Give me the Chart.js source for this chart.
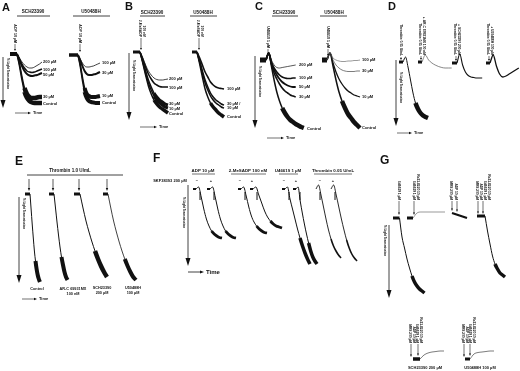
<!DOCTYPE html>
<html lang="en">
<head>
<meta charset="UTF-8">
<title>Platelet aggregation traces</title>
<script src="https://cdn.jsdelivr.net/npm/chart.js"></script>
<style>
  html, body { margin: 0; padding: 0; background: #fff; }
  #fig { display: block; }
</style>
</head>
<body>
<canvas id="fig" width="520" height="371"></canvas>
<script>
// Fall in light transmission after the agonist, sampled at equal time steps.
// A - ADP 10 uM
const aSch200 = [0, 4, 8, 11, 13, 14, 14, 13, 11.5, 10, 8];
const aSch100 = [0, 5, 10, 14, 17, 18, 18.5, 18, 17, 16, 15];
const aSch50 = [0, 6, 12, 17, 20, 21.5, 22, 21.5, 21, 20, 19];
const aSch30 = [0, 10, 23, 34, 40, 43, 44, 44, 43.5, 43, 43];
const aSchCtl = [0, 12, 26, 38, 44, 47, 48.5, 49, 49, 49, 49];
const aU100 = [0, 4, 8, 11, 12, 12, 11.5, 11, 10, 9, 8];
const aU30 = [0, 5, 11, 16, 19, 20, 20, 19.5, 19, 18, 17];
const aU10 = [0, 9, 22, 33, 39, 41, 42, 42, 42, 41.5, 41];
const aUCtl = [0, 11, 25, 37, 43, 46, 47, 47.5, 48, 48, 48];
// B - 2-MeSADP 100 nM
const bSch200 = [0, 6, 13, 19, 23, 26, 27.5, 28, 28, 27.5, 27];
const bSch100 = [0, 7, 15, 22, 27, 31, 33, 34.5, 35, 35, 35];
const bSch30 = [0, 9, 19, 28, 35, 41, 45, 48, 50, 52, 53];
const bSch10 = [0, 10, 21, 31, 38, 44, 48, 51, 53, 55, 56];
const bSchCtl = [0, 11, 23, 34, 42, 48, 52, 55, 57, 59, 61];
const bU100 = [0, 6, 13, 20, 25, 30, 33, 35, 36, 36.5, 37];
const bU30 = [0, 9, 19, 28, 35, 41, 45, 48, 50, 52, 53];
const bU10 = [0, 10, 21, 31, 38, 44, 48, 51, 53, 55, 56];
const bUCtl = [0, 12, 25, 37, 45, 51, 55, 58, 61, 63, 65];
// C - U46619 1 uM
const cSch200 = [0, -7, 0, 5, 7.5, 8, 7.5, 7, 6.5, 6, 5.5, 5];
const cSch100 = [0, -7, 2, 8, 12, 15, 17, 18, 18.5, 18.5, 18, 18];
const cSch50 = [0, -7, 3, 10, 15, 19, 22, 24, 25.5, 26.5, 27, 27];
const cSch30 = [0, -7, 4, 13, 19, 24, 28, 31, 33, 35, 36, 37];
const cSchCtl = [0, -7, 6, 20, 32, 41, 48, 53, 57, 60, 62, 64, 65.5, 67, 68];
const cU100 = [0, -7, -2, 0, 1, 1.5, 1.5, 1, 1, 0.5, 0.5, 0];
const cU30 = [0, -7, 0, 5, 8, 10, 11, 11.5, 11.5, 11.5, 11, 11];
const cU10 = [0, -7, 3, 12, 19, 24, 28, 31, 33, 35, 36, 37];
const cUCtl = [0, -7, 6, 20, 32, 41, 48, 54, 58, 62, 65, 68];
// D - thrombin 0.05 U/mL
const dCtl = [0, -5, 5, 18, 31, 41, 47, 51, 53.5, 55, 56];
const dArc = [0, -7, -2, 1, 3, 4.5, 5.5, 6, 6, 6];
const dSch = [0, -9, 2, 9, 12.5, 14, 14.5, 15, 15, 15];
const dU = [0, -8, 3, 11, 14, 13, 11, 9, 7, 5];
// E - thrombin 1.0 U/mL
const eCtl = [0, 15, 30, 44, 57, 67, 75, 81, 85, 88];
const eArc = [0, 14, 28, 41, 53, 63, 71, 78, 83, 86];
const eSch = [0, 14, 27, 38, 48, 57, 65, 72, 78, 83];
const eU = [0, 14, 27, 38, 48, 57, 65, 72, 78, 83, 86];
// F - without / with SKF38393 200 uM
const fAdpMinus = [0, -2, 8, 20, 30, 37, 42, 45, 47, 48.5, 49];
const fAdpPlus = [0, -2, 8, 20, 30, 37, 42, 45, 47, 48.5, 49];
const fMesMinus = [0, -2, 7, 18, 27, 33, 37, 40, 42, 43.5, 44];
const fMesPlus = [0, -2, 6, 14, 22, 28, 32, 35, 37, 38, 39];
const fU46Minus = [0, -2, 10, 20, 30, 40, 49, 57, 64, 70, 75];
const fU46Plus = [0, -2, 12, 24, 35, 45, 54, 62, 68, 72, 75];
const fThrMinus = [0, -4, 6, 18, 30, 41, 50, 57, 62, 66, 69];
const fThrPlus = [0, -4, 6, 18, 30, 41, 51, 59, 65, 69, 72];
// G
const gU46 = [0, 19, 30, 41, 50, 58, 64, 68, 71, 73, 75];
const gU46Ro = [0, -5, -6, -6, -6, -6, -6, -6, -6];
const gMrsAdp = [0, 1, 2, 3, 4, 5];
const gAll = [0, 15, 28, 40, 48, 53, 57, 59, 61];
const gSch = [0, -4, -6, -7, -7.5, -8, -8];
const gU50 = [0, -5, -6.5, -7, -7.5, -8, -8];
const baseline = [0, 0];

// where each trace sits on the sheet: values, start x, baseline y, step, width, heavy width, heavy from index, colour
const traceLayout = [
  [aSch200, 17, 54, 2.5, 0.8], [aSch100, 17, 54, 2.5, 1.4], [aSch50, 17, 54, 2.5, 2],
  [aSch30, 17, 54, 2.5, 1.5, 4.5, 3], [aSchCtl, 17, 54, 2.5, 1.5, 4.5, 3],
  [aU100, 78, 55, 2.2, 0.8], [aU30, 78, 55, 2.2, 2],
  [aU10, 78, 55, 2.2, 1.5, 4, 3], [aUCtl, 78, 55, 2.2, 1.5, 4, 3],
  [bSch200, 140, 52, 2.8, 0.8], [bSch100, 140, 52, 2.8, 1.6],
  [bSch30, 140, 52, 2.8, 1.5, 3, 5], [bSch10, 140, 52, 2.8, 1.5, 3, 5], [bSchCtl, 140, 52, 2.8, 1.5, 3.5, 5],
  [bU100, 197, 52, 2.7, 1.6], [bU30, 197, 52, 2.7, 1.5], [bU10, 197, 52, 2.7, 1.5], [bUCtl, 197, 52, 2.7, 1.5, 3.5, 5],
  [cSch200, 266, 60, 2.7, 0.7], [cSch100, 266, 60, 2.7, 1.6], [cSch50, 266, 60, 2.7, 1.8],
  [cSch30, 266, 60, 2.7, 1.6], [cSchCtl, 266, 60, 2.7, 1.5, 4.5, 6],
  [cU100, 327, 60, 3.0, 0.6, 0, 99, '#555'], [cU30, 327, 60, 3.0, 0.7, 0, 99, '#444'],
  [cU10, 327, 60, 3.0, 1.3], [cUCtl, 327, 60, 3.0, 1.5, 4.5, 5],
  [dCtl, 403, 62, 2.5, 1, 4.5, 5], [dArc, 422, 62, 3.3, 0.7, 0, 99, '#555'],
  [dSch, 457, 63, 2.8, 1.1], [dU, 490, 63, 3.2, 1.3],
  [eCtl, 30, 194, 1.1, 1, 4, 5], [eArc, 54, 194, 1.5, 1, 4, 5],
  [eSch, 80, 194, 3.0, 1, 4.5, 5], [eU, 108, 194, 2.8, 0.8, 4, 6],
  [fAdpMinus, 196, 189, 2.6, 1, 2.8, 6], [fAdpPlus, 210, 189, 2.6, 1, 2.8, 6],
  [fMesMinus, 241, 189, 2.6, 1, 2.8, 6], [fMesPlus, 253, 189, 2.9, 1, 2.8, 6],
  [fU46Minus, 285, 189, 2.5, 1, 3.5, 6], [fU46Plus, 296, 189, 2.1, 1, 3.5, 6],
  [fThrMinus, 316, 189, 2.5, 0.9, 1.6, 6], [fThrPlus, 331, 189, 2.6, 0.9, 1.6, 6],
  [gU46, 399.5, 218, 2.5, 1, 3.5, 5], [gU46Ro, 413, 218, 4, 0.6, 0, 99, '#555'],
  [gMrsAdp, 452, 213, 3, 2.2], [gAll, 485, 216, 2.5, 1, 3.5, 4],
  [gSch, 420, 359, 4, 0.7, 0, 99, '#444'], [gU50, 470, 359, 4, 0.7, 0, 99, '#444']
];

// pre-agonist baselines: from x, to x, baseline y, width
const baseLayout = [
  [10, 17, 54, 4], [69, 78, 55, 3.5], [133, 140, 52, 3], [192, 197, 52, 3],
  [260, 266, 60, 5], [322, 327, 60, 5],
  [399, 403, 62, 3], [418, 422, 62, 3], [452, 457, 63, 3], [486, 490, 63, 3],
  [25, 30, 194, 3], [49, 54, 194, 3], [74, 80, 194, 3], [103, 108, 194, 3],
  [193, 196, 189, 2], [207, 210, 189, 2], [238, 241, 189, 2], [250, 253, 189, 2],
  [282, 285, 189, 2], [293, 296, 189, 2],
  [393, 399.5, 218, 3], [407, 413, 218, 3], [477, 485, 216, 3], [413, 420, 359, 3.5], [465, 470, 359, 3]
];

// text: string, x, y, size, align, rotation (deg), bold
const texts = [
  ['A', 2, 11, 11, 'left', 0, true], ['B', 125, 10, 11, 'left', 0, true],
  ['C', 255, 10, 11, 'left', 0, true], ['D', 388, 10, 11, 'left', 0, true],
  ['E', 15, 165, 12, 'left', 0, true], ['F', 153, 162, 12, 'left', 0, true],
  ['G', 380, 164, 12, 'left', 0, true],
  ['SCH23390', 33, 12, 4.6, 'center', 0, true], ['U50488H', 91, 12, 4.6, 'center', 0, true],
  ['SCH23390', 152, 13, 4.6, 'center', 0, true], ['U50488H', 203, 13, 4.6, 'center', 0, true],
  ['SCH23390', 284, 13, 4.6, 'center', 0, true], ['U50488H', 334, 13, 4.6, 'center', 0, true],
  ['ADP 10 \u00b5M', 15, 43, 3.6, 'right', 90, true], ['ADP 10 \u00b5M', 80, 43, 3.6, 'right', 90, true],
  ['2-MeSADP', 140, 37, 3.4, 'right', 90, true], ['100 nM', 143.5, 37, 3.4, 'right', 90, true],
  ['2-MeSADP', 198, 37, 3.4, 'right', 90, true], ['100 nM', 201.5, 37, 3.4, 'right', 90, true],
  ['U46619 1 \u00b5M', 268, 48, 3.6, 'right', 90, true], ['U46619 1 \u00b5M', 328, 48, 3.6, 'right', 90, true],
  ['Thrombin 0.05 U/mL', 401, 56, 3.3, 'right', 90, true],
  ['Thrombin 0.05 U/mL', 420, 55, 3.3, 'right', 90, true], ['+ AR-C 69931MX 100 nM', 424, 55, 3.3, 'right', 90, true],
  ['Thrombin 0.05 U/mL', 455, 55, 3.3, 'right', 90, true], ['+ SCH23390 200 \u00b5M', 459, 55, 3.3, 'right', 90, true],
  ['Thrombin 0.05 U/mL', 488, 55, 3.3, 'right', 90, true], ['+ U50488H 100 \u00b5M', 492, 55, 3.3, 'right', 90, true],
  ['200 \u00b5M', 43, 62, 4, 'left', 0, true], ['100 \u00b5M', 43, 70, 4, 'left', 0, true],
  ['50 \u00b5M', 43, 75, 4, 'left', 0, true], ['30 \u00b5M', 43, 97, 4, 'left', 0, true],
  ['Control', 43, 104, 4, 'left', 0, true],
  ['100 \u00b5M', 102, 63, 4, 'left', 0, true], ['30 \u00b5M', 102, 73, 4, 'left', 0, true],
  ['10 \u00b5M', 102, 96, 4, 'left', 0, true], ['Control', 102, 103, 4, 'left', 0, true],
  ['200 \u00b5M', 169, 79, 4, 'left', 0, true], ['100 \u00b5M', 169, 88, 4, 'left', 0, true],
  ['30 \u00b5M', 169, 104, 4, 'left', 0, true], ['10 \u00b5M', 169, 108.5, 4, 'left', 0, true],
  ['Control', 169, 114, 4, 'left', 0, true],
  ['100 \u00b5M', 227, 89, 4, 'left', 0, true], ['30 \u00b5M /', 227, 104, 4, 'left', 0, true],
  ['10 \u00b5M', 227, 108, 4, 'left', 0, true], ['Control', 227, 117, 4, 'left', 0, true],
  ['200 \u00b5M', 299, 65, 4, 'left', 0, true], ['100 \u00b5M', 299, 78, 4, 'left', 0, true],
  ['50 \u00b5M', 299, 87, 4, 'left', 0, true], ['30 \u00b5M', 299, 97, 4, 'left', 0, true],
  ['Control', 307, 129, 4, 'left', 0, true],
  ['100 \u00b5M', 362, 60, 4, 'left', 0, true], ['30 \u00b5M', 362, 71, 4, 'left', 0, true],
  ['10 \u00b5M', 362, 97, 4, 'left', 0, true], ['Control', 362, 128, 4, 'left', 0, true],
  ['% Light Transmission', 7.5, 58, 3, 'left', 90, true], ['% Light Transmission', 133.5, 60, 3, 'left', 90, true],
  ['% Light Transmission', 259.5, 66, 3, 'left', 90, true], ['% Light Transmission', 400.5, 72, 3, 'left', 90, true],
  ['% Light Transmission', 23.5, 198, 3, 'left', 90, true], ['% Light Transmission', 183.5, 197, 3, 'left', 90, true],
  ['% Light Transmission', 384.5, 225, 3, 'left', 90, true],
  ['Time', 33, 113, 4, 'left', 0, true], ['Time', 159, 127, 4, 'left', 0, true],
  ['Time', 286, 138, 4, 'left', 0, true], ['Time', 414, 133, 4, 'left', 0, true],
  ['Time', 39, 299, 4, 'left', 0, true], ['Time', 206, 272, 6, 'left', 0, true],
  ['Thrombin 1.0 U/mL', 70, 171, 4.6, 'center', 0, true],
  ['Control', 37, 289, 3.8, 'center', 0, true],
  ['AR-C 69931MX', 73, 289, 3.8, 'center', 0, true], ['100 nM', 73, 294, 3.8, 'center', 0, true],
  ['SCH23390', 102, 288, 3.8, 'center', 0, true], ['200 \u00b5M', 102, 293, 3.8, 'center', 0, true],
  ['U50488H', 133, 288, 3.8, 'center', 0, true], ['100 \u00b5M', 133, 293, 3.8, 'center', 0, true],
  ['ADP 10 \u00b5M', 203, 171, 4.4, 'center', 0, true], ['2-MeSADP 100 nM', 248, 171, 4.4, 'center', 0, true],
  ['U46619 1 \u00b5M', 288, 171, 4.4, 'center', 0, true], ['Thrombin 0.05 U/mL', 333, 171, 4.4, 'center', 0, true],
  ['SKF38393 200 \u00b5M', 170, 181, 4, 'center', 0, true],
  ['\u2212', 197, 181, 4, 'center', 0, true], ['+', 211, 181, 4, 'center', 0, true],
  ['\u2212', 240, 181, 4, 'center', 0, true], ['+', 252, 181, 4, 'center', 0, true],
  ['\u2212', 284, 181, 4, 'center', 0, true], ['+', 296, 181, 4, 'center', 0, true],
  ['\u2212', 320, 181, 4, 'center', 0, true], ['+', 333, 181, 4, 'center', 0, true],
  ['U46619 1 \u00b5M', 399, 200, 3.2, 'right', 90, true],
  ['U46619 1 \u00b5M', 414, 200, 3.2, 'right', 90, true], ['Ro31-8220 10 \u00b5M', 418, 200, 3.2, 'right', 90, true],
  ['MRS 200 \u00b5M', 451, 200, 3.2, 'right', 90, true], ['ADP 10 \u00b5M', 456, 200, 3.2, 'right', 90, true],
  ['MRS 200 \u00b5M', 477, 200, 3.2, 'right', 90, true], ['ADP 10 \u00b5M', 481, 200, 3.2, 'right', 90, true],
  ['U46619 1 \u00b5M', 485, 200, 3.2, 'right', 90, true], ['Ro31-8220 10 \u00b5M', 489, 200, 3.2, 'right', 90, true],
  ['MRS 200 \u00b5M', 410, 343, 3.2, 'right', 90, true], ['ADP 10 \u00b5M', 413.5, 343, 3.2, 'right', 90, true],
  ['U46619 1 \u00b5M', 417, 343, 3.2, 'right', 90, true], ['Ro31-8220 10 \u00b5M', 420.5, 343, 3.2, 'right', 90, true],
  ['MRS 200 \u00b5M', 463, 343, 3.2, 'right', 90, true], ['ADP 10 \u00b5M', 466.5, 343, 3.2, 'right', 90, true],
  ['U46619 1 \u00b5M', 470, 343, 3.2, 'right', 90, true], ['Ro31-8220 10 \u00b5M', 473.5, 343, 3.2, 'right', 90, true],
  ['SCH23390 200 \u00b5M', 425, 368, 4, 'center', 0, true], ['U50488H 100 \u00b5M', 480, 368, 4, 'center', 0, true]
];

// plain rules: x1, y1, x2, y2, width
const rules = [
  [17, 16, 50, 16, 0.8], [73, 16, 110, 16, 0.8], [140, 16, 165, 16, 0.8], [190, 16, 217, 16, 0.8],
  [272, 16, 298, 16, 0.8], [320, 16, 347, 16, 0.8], [27, 175, 123, 175, 0.8],
  [192, 174, 215, 174, 0.6], [231, 174, 266, 174, 0.6], [279, 174, 298, 174, 0.6], [314, 174, 352, 174, 0.6],
  [200, 192, 200, 200, 1], [214, 192, 214, 200, 1], [245, 192, 245, 200, 1], [257, 192, 257, 200, 1],
  [289, 192, 289, 200, 1], [300, 192, 300, 200, 1], [320, 192, 320, 200, 1], [335, 192, 335, 200, 1]
];

// arrows: x1, y1, x2, y2, width, head length, head half width
const arrows = [
  [3, 57, 3, 108, 0.8, 8, 2.5], [129, 53, 129, 120, 0.8, 8, 2.5], [255, 56, 255, 128, 0.8, 8, 2.5],
  [396, 60, 396, 126, 0.8, 8, 2.5], [19, 197, 19, 283, 0.8, 8, 2.5], [188, 185, 188, 266, 0.8, 8, 2.5],
  [389, 225, 389, 298, 0.8, 8, 2.5],
  [15, 113, 31, 113, 0.6, 3, 1.2], [140, 127, 157, 127, 0.6, 3, 1.2], [267, 138, 284, 138, 0.6, 3, 1.2],
  [397, 133, 412, 133, 0.6, 3, 1.2], [22, 299, 37, 299, 0.6, 3, 1.2], [188, 272, 204, 272, 0.8, 4, 1.6],
  [15, 44, 15, 51, 0.6, 2, 1], [80, 44, 80, 52, 0.6, 2, 1], [141, 38, 141, 50, 0.6, 2, 1], [199, 38, 199, 50, 0.6, 2, 1],
  [268, 49, 268, 56, 0.6, 2, 1], [328, 49, 328, 56, 0.6, 2, 1],
  [401, 57, 401, 60, 0.6, 2, 1], [421, 56, 421, 60, 0.6, 2, 1], [456, 56, 456, 61, 0.6, 2, 1], [489, 56, 489, 61, 0.6, 2, 1],
  [29, 179, 29, 191, 0.7, 3, 1.2], [53, 179, 53, 191, 0.7, 3, 1.2], [79, 179, 79, 191, 0.7, 3, 1.2], [107, 179, 107, 191, 0.7, 3, 1.2],
  [399, 201, 399, 215, 0.6, 2.5, 1], [414, 201, 414, 215, 0.6, 2.5, 1],
  [452, 201, 452, 211, 0.6, 2.5, 1], [457, 201, 457, 212, 0.6, 2.5, 1],
  [478, 201, 478, 214, 0.6, 2.5, 1], [483, 201, 483, 214, 0.6, 2.5, 1],
  [411, 344, 411, 357, 0.6, 2.5, 1], [418, 344, 418, 356, 0.6, 2.5, 1],
  [464, 344, 464, 357, 0.6, 2.5, 1], [470, 344, 470, 356, 0.6, 2.5, 1]
];

const ink = '#111';

const datasets = [];
traceLayout.forEach(function (t) {
  const vals = t[0], x0 = t[1], y0 = t[2], dx = t[3], w = t[4];
  const hw = t[5] || w, hf = (t[6] === undefined) ? 99 : t[6];
  datasets.push({
    data: vals.map((v, i) => ({ x: x0 + i * dx, y: y0 + v })),
    showLine: true,
    borderColor: t[7] || ink,
    borderWidth: w,
    pointRadius: 0,
    cubicInterpolationMode: 'monotone',
    borderJoinStyle: 'round',
    segment: { borderWidth: ctx => ctx.p0DataIndex >= hf ? hw : w }
  });
});
baseLayout.forEach(function (b) {
  datasets.push({
    data: baseline.map((v, i) => ({ x: i ? b[1] : b[0], y: b[2] + v })),
    showLine: true, borderColor: ink, borderWidth: b[3], pointRadius: 0
  });
});

const figureText = {
  id: 'figureText',
  afterDatasetsDraw(chart) {
    const c = chart.ctx, sx = chart.scales.x, sy = chart.scales.y;
    const px = v => sx.getPixelForValue(v), py = v => sy.getPixelForValue(v);
    c.save();
    c.fillStyle = ink;
    c.strokeStyle = ink;
    rules.forEach(function (r) {
      c.lineWidth = r[4];
      c.beginPath(); c.moveTo(px(r[0]), py(r[1])); c.lineTo(px(r[2]), py(r[3])); c.stroke();
    });
    arrows.forEach(function (a) {
      const x1 = px(a[0]), y1 = py(a[1]), x2 = px(a[2]), y2 = py(a[3]);
      const ang = Math.atan2(y2 - y1, x2 - x1), L = a[5], H = a[6];
      c.lineWidth = a[4];
      c.beginPath(); c.moveTo(x1, y1);
      c.lineTo(x2 - Math.cos(ang) * L * 0.8, y2 - Math.sin(ang) * L * 0.8); c.stroke();
      c.beginPath();
      c.moveTo(x2, y2);
      c.lineTo(x2 - Math.cos(ang) * L - Math.sin(ang) * H, y2 - Math.sin(ang) * L + Math.cos(ang) * H);
      c.lineTo(x2 - Math.cos(ang) * L + Math.sin(ang) * H, y2 - Math.sin(ang) * L - Math.cos(ang) * H);
      c.closePath(); c.fill();
    });
    texts.forEach(function (t) {
      c.save();
      c.font = (t[6] ? 'bold ' : '') + t[3] + 'px "Liberation Sans", Arial, sans-serif';
      c.textAlign = t[4];
      c.textBaseline = t[3] > 8 ? 'alphabetic' : 'middle';
      c.translate(px(t[1]), py(t[2]));
      if (t[5]) c.rotate(t[5] * Math.PI / 180);
      c.fillText(t[0], 0, 0);
      c.restore();
    });
    c.restore();
  }
};

new Chart(document.getElementById('fig').getContext('2d'), {
  type: 'scatter',
  data: { datasets: datasets },
  options: {
    responsive: false,
    animation: false,
    devicePixelRatio: 1,
    events: [],
    layout: { padding: 0 },
    plugins: { legend: { display: false }, tooltip: { enabled: false } },
    scales: {
      x: { type: 'linear', min: 0, max: 520, display: false },
      y: { type: 'linear', min: 0, max: 371, reverse: true, display: false }
    }
  },
  plugins: [figureText]
});
</script>
</body>
</html>
